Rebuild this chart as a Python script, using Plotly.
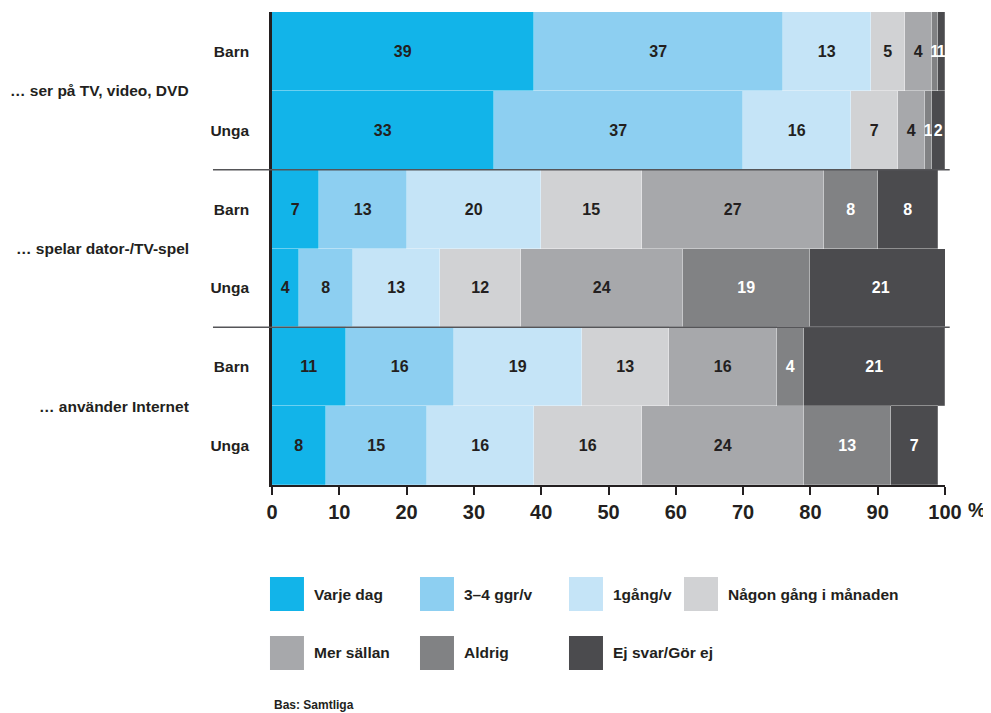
import plotly.graph_objects as go

# ---- data ----
rows = ["TV Barn", "TV Unga", "Spel Barn", "Spel Unga", "Internet Barn", "Internet Unga"]
row_ticks = ["Barn", "Unga", "Barn", "Unga", "Barn", "Unga"]
groups = ["… ser på TV, video, DVD", "… spelar dator-/TV-spel", "… använder Internet"]
categories = ["Varje dag", "3–4 ggr/v", "1gång/v", "Någon gång i månaden",
              "Mer sällan", "Aldrig", "Ej svar/Gör ej"]

varje_dag  = [39, 33, 7, 4, 11, 8]
ggr_3_4    = [37, 37, 13, 8, 16, 15]
gang_1     = [13, 16, 20, 13, 19, 16]
nagon_gang = [5, 7, 15, 12, 13, 16]
mer_sallan = [4, 4, 27, 24, 16, 24]
aldrig     = [1, 1, 8, 19, 4, 13]
ej_svar    = [1, 2, 9, 21, 21, 7]
ej_svar_labels = [1, 2, 8, 21, 21, 7]

series = [varje_dag, ggr_3_4, gang_1, nagon_gang, mer_sallan, aldrig, ej_svar]
labels = [varje_dag, ggr_3_4, gang_1, nagon_gang, mer_sallan, aldrig, ej_svar_labels]
colors = ["#12b4e9", "#8dcff1", "#c5e4f7", "#d1d2d4", "#a7a8ab", "#818284", "#4b4b4e"]
text_colors = ["#231f20"] * 5 + ["#ffffff"] * 2

FONT = "Liberation Sans"
DARK = "#231f20"

fig = go.Figure()
ypos = list(range(len(rows)))
for name, vals, labs, col, tcol in zip(categories, series, labels, colors, text_colors):
    fig.add_trace(go.Bar(
        x=vals, y=ypos, orientation="h", name=name,
        marker=dict(color=col, line=dict(color="rgba(255,255,255,0.35)", width=0.6)),
        width=1.0,
        text=[str(v) for v in labs], textposition="inside",
        insidetextanchor="middle", constraintext="none",
        textfont=dict(family=FONT, size=16, color=tcol, weight="bold"),
        showlegend=False, hoverinfo="skip",
    ))

shapes = []
# group separators
for yv in [1.5, 3.5]:
    shapes.append(dict(type="line", xref="paper", yref="y", x0=-0.0877, x1=1.007,
                       y0=yv, y1=yv, line=dict(color="#555558", width=1.5)))

annotations = []
for i, g in enumerate(groups):
    annotations.append(dict(text=g, xref="paper", yref="y", x=-0.12, y=2 * i + 0.5,
                            xanchor="right", yanchor="middle", showarrow=False,
                            font=dict(family=FONT, size=15.5, color=DARK, weight="bold")))

# legend (custom squares)
col_x = [-0.003, 0.2199, 0.4413, 0.6122]
row_y = [(-0.2664, -0.1945), (-0.3911, -0.3192)]
sq_w = 0.0505
for i, (name, col) in enumerate(zip(categories, colors)):
    r, c = divmod(i, 4)
    x0 = col_x[c]
    y0, y1 = row_y[r]
    shapes.append(dict(type="rect", xref="paper", yref="paper", x0=x0, x1=x0 + sq_w,
                       y0=y0, y1=y1, fillcolor=col, line=dict(width=0)))
    annotations.append(dict(text=name, xref="paper", yref="paper", x=x0 + sq_w + 0.012,
                            y=(y0 + y1) / 2, xanchor="left", yanchor="middle", showarrow=False,
                            font=dict(family=FONT, size=15.5, color=DARK, weight="bold")))

annotations.append(dict(text="%", xref="x", yref="paper", x=100, xshift=21, y=-0.053,
                        xanchor="left", yanchor="middle", showarrow=False,
                        font=dict(family=FONT, size=20, color=DARK, weight="bold")))
annotations.append(dict(text="Bas: Samtliga", xref="paper", yref="paper", x=0, y=-0.465,
                        xanchor="left", yanchor="middle", showarrow=False,
                        font=dict(family=FONT, size=12, color=DARK, weight="bold")))

fig.update_layout(
    barmode="stack", bargap=0,
    width=983, height=705,
    margin=dict(l=264, r=46, t=4, b=228),
    plot_bgcolor="white", paper_bgcolor="white",
    shapes=shapes, annotations=annotations,
    uniformtext=dict(minsize=16, mode="show"),
    xaxis=dict(range=[0, 100], tickvals=[0, 10, 20, 30, 40, 50, 60, 70, 80, 90, 100],
               showgrid=False, zeroline=False, showline=True, linecolor=DARK, linewidth=2,
               ticks="outside", ticklen=8, tickwidth=2, tickcolor=DARK,
               tickfont=dict(family=FONT, size=20, color=DARK, weight="bold"),
               fixedrange=True),
    yaxis=dict(range=[5.5, -0.5], tickvals=ypos, ticktext=row_ticks,
               showgrid=False, zeroline=False, showline=True, linecolor=DARK, linewidth=2.5,
               ticks="", ticklabelstandoff=17,
               tickfont=dict(family=FONT, size=15.5, color=DARK, weight="bold"),
               fixedrange=True),
)

fig.write_html("out.html")
